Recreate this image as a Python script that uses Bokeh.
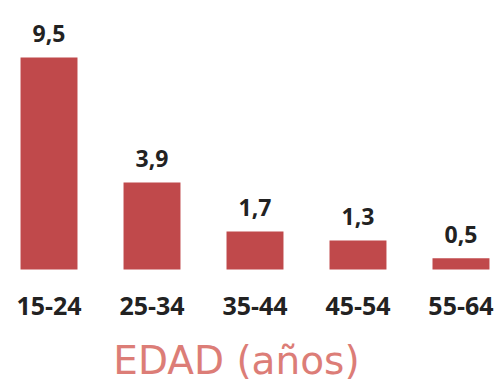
from bokeh.plotting import figure
from bokeh.models import ColumnDataSource, Range1d
from bokeh.core.properties import value
from bokeh.embed import file_html
from bokeh.resources import INLINE

# Age groups and their values
age_groups = ["15-24", "25-34", "35-44", "45-54", "55-64"]
values = [9.5, 3.9, 1.7, 1.3, 0.5]
value_labels = ["9,5", "3,9", "1,7", "1,3", "0,5"]
axis_title = "EDAD (años)"

bar_color = "#c0494b"
positions = list(range(len(age_groups)))

source = ColumnDataSource(dict(
    x=positions, top=values, label=value_labels, group=age_groups,
    base=[0] * len(values),
))

p = figure(width=499, height=387, output_backend="svg", toolbar_location=None,
           x_range=Range1d(-0.471, 4.374), y_range=Range1d(-5.29, 12.06),
           min_border=0, min_border_left=0, min_border_right=0,
           min_border_top=0, min_border_bottom=0)
p.axis.visible = False
p.grid.visible = False
p.outline_line_color = None
p.background_fill_color = "white"
p.border_fill_color = "white"

p.vbar(x="x", top="top", bottom=0, width=0.553, source=source,
       fill_color=bar_color, line_color=None)

# value labels above each bar
p.text(x="x", y="top", text="label", source=source,
       text_align="center", text_baseline="middle", y_offset=-24,
       text_font=value("Open Sans"), text_font_style="bold",
       text_font_size="23px", text_color="#222222")

# category labels under the bars
p.text(x="x", y="base", text="group", source=source,
       text_align="center", text_baseline="middle", y_offset=36,
       text_font=value("Open Sans"), text_font_style="bold",
       text_font_size="25px", text_color="#222222")

# axis title, slightly left of the middle bar
p.text(x=[1.82], y=[0], text=[axis_title], text_align="center",
       text_baseline="middle", y_offset=91,
       text_font=value("DejaVu Sans"), text_font_size="39px",
       text_color="#dc7d77")

open("out.html", "w").write(file_html(p, INLINE))
